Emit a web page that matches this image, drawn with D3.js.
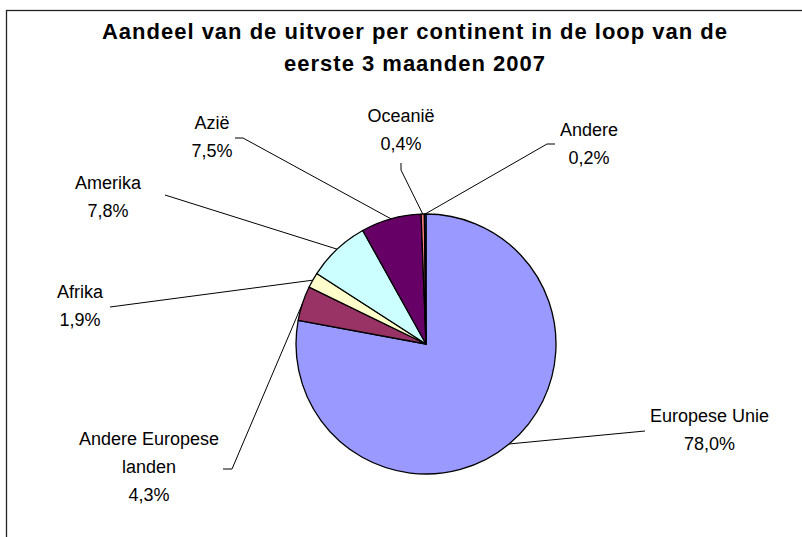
<!DOCTYPE html>
<html>
<head>
<meta charset="utf-8">
<script src="https://cdn.jsdelivr.net/npm/d3@7"></script>
<style>
  body { margin: 0; background: #fff; }
  text { font-family: "Liberation Sans", Arial, sans-serif; }
</style>
</head>
<body>
<div id="chart"></div>
<script>
// Data
const continents = ["Europese Unie", "Andere Europese landen", "Afrika", "Amerika", "Azië", "Oceanië", "Andere"];
const shares = [78.0, 4.3, 1.9, 7.8, 7.5, 0.4, 0.2];
const shareLabels = ["78,0%", "4,3%", "1,9%", "7,8%", "7,5%", "0,4%", "0,2%"];
const labelLines = [["Europese Unie"], ["Andere Europese", "landen"], ["Afrika"], ["Amerika"], ["Azië"], ["Oceanië"], ["Andere"]];
const titleLines = ["Aandeel van de uitvoer per continent in de loop van de", "eerste 3 maanden 2007"];

// Styling / layout
const colors = ["#9999FF", "#993366", "#FFFFCC", "#CCFFFF", "#660066", "#FF8080", "#0066CC"];
const width = 802, height = 537;
const cx = 426, cy = 344, radius = 130;

// label placement: text centre x, first baseline y, leader start, optional stub end
const labelPos = [
  {x: 709.5, y: 422, from: [645, 431]},
  {x: 149,   y: 445, from: [223, 469], stub: [232, 469]},
  {x: 80,    y: 298, from: [110, 307]},
  {x: 108,   y: 189, from: [165, 195]},
  {x: 212,   y: 129, from: [235, 138], stub: [243, 138]},
  {x: 401,   y: 122, from: [401, 163], stub: [401, 170]},
  {x: 589,   y: 136, from: [555, 144], stub: [547, 144]}
];

const svg = d3.select("#chart")
  .append("svg")
    .attr("width", width)
    .attr("height", height);

// Chart frame (only top and left edges fall inside the picture)
svg.append("rect")
  .attr("x", 6.5)
  .attr("y", 10.5)
  .attr("width", width + 20)
  .attr("height", height + 20)
  .attr("fill", "none")
  .attr("stroke", "#222")
  .attr("stroke-width", 1.3);

// Title
svg.append("g")
  .selectAll("text")
  .data(titleLines)
  .join("text")
    .attr("x", 415)
    .attr("y", (d, i) => 39 + i * 32)
    .attr("text-anchor", "middle")
    .style("font-size", "22px")
    .style("font-weight", "bold")
    .style("letter-spacing", "1px")
    .text(d => d);

// Pie
const data = continents.map((c, i) => ({name: c, value: shares[i], i: i}));
const pie = d3.pie().sort(null).value(d => d.value);
const arc = d3.arc().innerRadius(0).outerRadius(radius);
const arcs = pie(data);

const g = svg.append("g").attr("transform", `translate(${cx},${cy})`);

g.selectAll("path")
  .data(arcs)
  .join("path")
    .attr("d", arc)
    .attr("fill", d => colors[d.data.i])
    .attr("stroke", "#000")
    .attr("stroke-width", 1.3)
    .attr("stroke-linejoin", "round");

// Leader lines
svg.append("g")
  .selectAll("polyline")
  .data(arcs)
  .join("polyline")
    .attr("fill", "none")
    .attr("stroke", "#000")
    .attr("stroke-width", 1)
    .attr("points", d => {
      const p = labelPos[d.data.i];
      const a = (d.startAngle + d.endAngle) / 2;
      const end = [cx + radius * Math.sin(a), cy - radius * Math.cos(a)];
      const pts = [p.from];
      if (p.stub) pts.push(p.stub);
      pts.push(end);
      return pts.map(q => q.join(",")).join(" ");
    });

// Data labels
const labels = svg.append("g")
  .selectAll("text")
  .data(data)
  .join("text")
    .attr("text-anchor", "middle")
    .style("font-size", "18px")
    .attr("fill", "#000");

labels.selectAll("tspan")
  .data(d => labelLines[d.i].concat([shareLabels[d.i]]).map(t => ({t: t, i: d.i})))
  .join("tspan")
    .attr("x", d => labelPos[d.i].x)
    .attr("y", (d, j) => labelPos[d.i].y + j * 28)
    .text(d => d.t);
</script>
</body>
</html>
